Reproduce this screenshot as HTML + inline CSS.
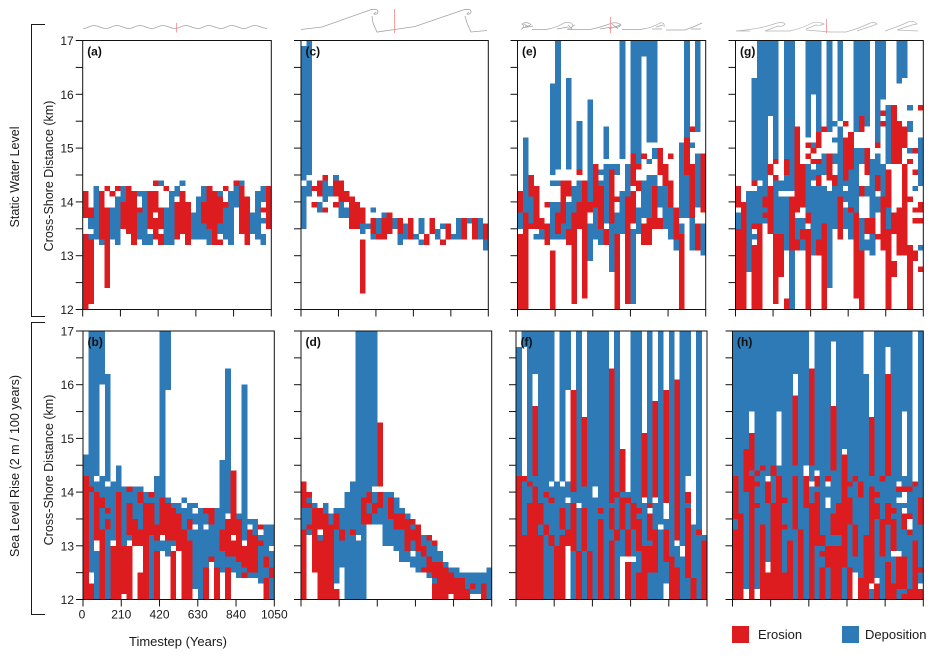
<!DOCTYPE html>
<html lang="en">
<head>
<meta charset="utf-8">
<title>Erosion and deposition by timestep</title>
<style>
html,body{margin:0;padding:0;background:#fff;}
body{width:935px;height:658px;overflow:hidden;}
svg{display:block;font-family:"Liberation Sans",sans-serif;fill:#1a1a1a;}
</style>
</head>
<body>
<svg id="figure" width="935" height="658" viewBox="0 0 935 658" xmlns="http://www.w3.org/2000/svg">
  <g fill="none" stroke="#a3a3a3" stroke-width="0.8">
    <path d="M83 28.500c5 0 7-3.500 11.500-3s7 3 11.500 3 7-3.500 11.500-3 7 3 11.500 3 7-3.500 11.500-3 7 3 11.500 3 7-3.500 11.500-3 7 3 11.500 3 7-3.500 11.500-3 7 3 11.500 3 7-3.500 11.500-3 7 3 11.500 3 7-3.500 11.500-3 7 3 11.500 3 7-3.500 11.500-3 7 3 11.500 3"/>
    <path d="M301 29.500L322 27L370 10Q378 8 378 12Q377 15 374 14L376 12M372 16L373 23L377 32L395 29.500L415 26.500L463 10Q471 8 471 12Q470 15 467 14L469 12M465 16L467 23L471 32L487 30.500"/>
    <path stroke-width="0.7" d="M521 29.500Q526 26 522 24Q526 21 531 24.500Q528 27 525 26M522 28L533 26M524 24L529 27M532 29.500H546Q556 28 564 23Q570 21 573 25Q572 29 568 28M557 29L568 27M570 28L575 25M568 25L572 29M567 29.500H590Q602 27 612 23Q618 22 621 25Q619 28 614 27M600 29L612 27M609 29L620 25M612 24L618 29M622 29.500H640Q652 28 660 23Q665 22 664 27M652 29H662M656 27L663 25M666 30H685Q694 27 702 23M691 29H701"/>
    <path stroke="#b5b5b5" stroke-width="0.7" d="M736 31Q760 29 774 24Q782 21 785 24Q783 27 778 26L765 31M750 31H738M765 31H790Q803 28 812 23Q818 21 824 24Q820 26 816 25L806 29M806 30L830 32H846Q860 28 868 24Q874 21 877 24L872 26L857 31M885 31Q900 26 908 22Q914 20 917 24L912 25L897 30M897 30L918 31"/>
  </g>
  <g stroke="#f4898b" stroke-width="0.8">
    <line x1="176.500" x2="176.500" y1="23" y2="32.500"/>
    <line x1="394.500" x2="394.500" y1="9" y2="33"/>
    <line x1="610.500" x2="610.500" y1="17" y2="33"/>
    <line x1="826.500" x2="826.500" y1="19" y2="33"/>
  </g>
  <path d="M45 24.500H31.500V316.500H45" fill="none" stroke="#1a1a1a" stroke-width="1"/>
  <path d="M45 322.500H31.500V614.500H45" fill="none" stroke="#1a1a1a" stroke-width="1"/>
  <text transform="translate(19,177) rotate(-90)" font-size="12.500" text-anchor="middle">Static Water Level</text>
  <text transform="translate(19,466) rotate(-90)" font-size="12.500" text-anchor="middle">Sea Level Rise (2 m / 100 years)</text>
  <text transform="translate(53,176) rotate(-90)" font-size="12.500" text-anchor="middle">Cross-Shore Distance (km)</text>
  <text transform="translate(53,470) rotate(-90)" font-size="12.500" text-anchor="middle">Cross-Shore Distance (km)</text>
  <text x="178" y="646" font-size="13" text-anchor="middle">Timestep (Years)</text>
  <g id="panels"></g>
  <g>
    <rect x="732" y="626" width="17" height="17" fill="#dc1c1e"/>
    <text x="758" y="639" font-size="13">Erosion</text>
    <rect x="842" y="626" width="17" height="17" fill="#2e7ab7"/>
    <text x="865" y="639" font-size="13">Deposition</text>
  </g>
</svg>
<script>
// Each column lists [from km, to km] pairs, flattened. Erosion draws over deposition.
const xTickValues = [0, 210, 420, 630, 840, 1050];
const xTickLabels = ["0", "210", "420", "630", "840", "1050"];
const yTickValues = [12, 12.5, 13, 13.5, 14, 14.5, 15, 15.5, 16, 16.5, 17];
const yTickLabels = ["12", "", "13", "", "14", "", "15", "", "16", "", "17"];
const yearsPerColumn = 30;

const depositionA = [[],[13.3,13.4,13.5,13.7],[13.3,14.3],[13.2,13.3],[],[13.3,13.9],[13.2,14.1],[14,14.3],[],[],[13.3,13.8,14.1,14.2],[13.2,14.2],[13.2,13.4],[],[14.3,14.4],[13.2,13.9],[13.2,14.2],[14.1,14.3],[14.3,14.4],[],[13.3,13.8],[13.3,14.1],[13.3,14.3],[13.2,13.5],[],[13.4,13.6,14.1,14.2],[13.3,13.9],[13.2,14.2],[13.9,14.3],[14.3,14.4],[],[13.4,13.8],[13.3,14.2],[13.2,13.4,13.6,13.7,14,14.3],[]];
const erosionA = [[12,13.4,13.7,14.2],[12.1,13.3,13.7,13.9],[],[13.3,14.2],[12.4,13.9,14.2,14.3],[14.1,14.2],[14.2,14.3],[13.5,14],[13.4,14.3],[13.2,14.2],[13.8,13.9],[],[13.5,14.2],[13.3,13.7,13.8,14.2,14.3,14.4],[13.2,13.4,13.5,13.9],[14.2,14.3],[],[13.3,14],[13.4,14.2],[13.2,14],[],[],[13.6,14],[13.5,14.3],[13.2,14.2],[13.2,13.3,13.6,14.1],[13.9,14,14.2,14.3],[],[14.3,14.4],[13.4,14.3],[13.2,14.1],[],[],[13.8,13.9],[13.5,14.3]];

const depositionB = [[14.3,14.7],[12.5,14,14.1,17],[12,12.9,14,14.2,14.3,17],[13.3,13.7,13.9,14.3,16,17],[12,14.1,14.2,16.2],[13.1,14.2],[14,14.5],[13,14.1],[13.1,13.2,13.8,14],[13.5,14.1],[13.3,13.8,14,14.1],[13.8,14],[12,13.2,13.8,13.9],[12.9,13.1,13.4,14.3],[12.9,13.1,13.9,17],[12.8,13.1,13.8,13.9,15.9,17],[13,13.1,13.7,13.8],[13.6,13.8],[13.3,13.7,13.8,13.9],[13.1,13.3,13.5,13.8],[12.2,13.3,13.4,13.6,13.7,13.8],[12,13.7],[12.6,13.3,13.4,13.6],[12.8,13.4],[12.6,13.7],[12.5,12.9,13.3,14.6],[12.6,12.8,13.6,16.3],[12.5,12.8],[12.4,12.7,13.5,13.6],[12.5,12.6,13.1,16],[12.4,12.5,13.4,13.5],[12.4,12.5,13.2,13.5],[12.3,13,13.1,13.2],[12.4,12.6,12.8,13.4],[12,12.4,12.6,12.9,13,13.4]];
const erosionB = [[12,14.3],[12,12.3,14,14.1],[13.1,14],[12,13.3,13.7,13.9],[13.3,13.5,13.6,13.7],[12,13],[12,14],[12.1,13],[12,13,13.2,13.8,14,14.1],[13,13.5],[12,12.5,13,13.3,13.8,14],[12,13.8],[13.2,13.8,13.9,14],[12,12.9,13.1,13.4],[13.2,13.9],[13.1,13.8],[12,12.9,13.1,13.7],[12.9,13.6],[12,13.3],[12,13.1,13.3,13.5],[],[],[12,12.6,13.6,13.7],[12.7,12.8,13.4,13.7],[12,12.6],[12.9,13.3],[12,12.6,12.8,13.5],[12.8,13.1,13.2,14.4],[12.7,13.5],[12.4,12.5,12.6,13],[12.5,13.3],[12.5,13.2],[13,13.1,13.3,13.4],[12,12.4,12.6,12.8],[12.4,12.6]];

const depositionC = [[13.5,14.3,14.4,16.9],[14.1,14.4,14.5,17],[],[13.8,14],[14,14.4],[14.1,14.3],[14.4,14.5],[13.7,14],[13.7,13.9],[],[],[13.4,13.6],[13.5,13.6],[13.3,13.4,13.8,13.9],[13.4,13.7],[13.7,13.8],[],[13.5,13.7],[13.2,13.4],[13.3,13.6],[],[13.3,13.4],[13.2,13.3,13.4,13.7],[],[],[13.3,13.5],[13.5,13.6],[],[13.3,13.4],[13.3,13.7],[],[13.6,13.7],[],[13.3,13.7],[13.1,13.3]];
const erosionC = [[],[],[13.9,14,14.2,14.3],[14.1,14.4],[13.8,13.9,14.4,14.5],[],[13.9,14,14.1,14.4],[14,14.4],[14,14.2],[13.5,14.1],[13.5,14],[12.3,13.3,13.6,13.9],[],[13.4,13.7],[13.3,13.4],[13.3,13.7],[13.4,13.8],[],[13.4,13.7],[],[13.3,13.7],[],[],[13.2,13.4],[13.4,13.7],[],[13.2,13.3],[13.3,13.6],[],[],[13.3,13.7],[],[13.3,13.7],[],[13.3,13.6]];

const depositionD = [[13.3,13.7],[13.2,13.3,13.4,13.7,13.8,13.9],[13.7,13.8],[13.1,13.2],[13.6,13.8],[13.4,13.6],[12.3,13.3,13.6,13.7],[12.6,13.1,13.3,13.7],[12,14],[12,13.3,13.2,14.2],[12,13.1,13.2,17],[12,13.4,13.9,17],[13.6,13.8,14,17],[13.4,13.6,13.8,14,14.1,17],[13.4,13.7],[13,14],[13,13.5,13.9,14],[12.9,13.3,13.6,13.9],[12.7,13.3,13.6,13.7],[12.7,12.9,13.5,13.6],[12.6,12.8,12.9,13.1,13.3,13.4],[12.5,12.9],[12.6,12.8,13,13.2],[12.4,12.5,12.8,13.1],[12.3,12.4,12.7,13],[12.7,12.9],[12.6,12.7],[12.5,12.6],[12.4,12.6],[12.4,12.5],[12.2,12.5],[12.1,12.2,12.3,12.5],[12.1,12.5],[12.3,12.5],[12,12.6]];
const erosionD = [[12,13.3,13.7,14.2],[13.3,13.4,13.7,13.8,13.9,14],[12.5,13.7],[12,13.1,13.3,13.7],[12,13.6],[12,13.4],[12,12.2,13.3,13.6],[13.1,13.3],[],[13.2,13.3],[],[13.4,13.9],[13.4,13.6,13.8,14],[13.6,13.8],[13.7,14,14.1,15.3],[],[13.5,13.9],[13.3,13.6],[13.3,13.6],[12.9,13.5],[13.1,13.3,13.4,13.5],[12.9,13.4],[12.5,12.6,12.8,13],[12.5,12.8,13.1,13.2],[12,12.3,12.4,12.7,13,13.1],[12,12.7],[12,12.6],[12.1,12.5],[12,12.4],[12,12.4],[12,12.2],[12.2,12.3],[],[12,12.3],[]];

const depositionE = [[13.5,13.8],[13.8,15.2],[13.6,14.1],[13.3,13.4],[13.3,13.5],[],[13.3,14,14.3,14.4,14.5,16.2],[13.3,14,14.3,14.4,14.6,17],[13.3,13.6],[13.5,14,14.6,16.3],[13.8,14.3],[14,14.4,14.6,15.5],[],[12.9,13.6,14,15.9],[13.3,13.9],[13.2,13.5,14.3,14.4,14.5,14.6],[13.6,14.7,14.8,15.4],[12.7,13.6,14.6,14.7],[13.4,13.8,14.5,14.7],[13.4,14.2,14.8,17],[14.1,14.7],[12.1,13.5,14.9,17],[13.4,13.9,14.7,17],[13.7,14.4,16.7,17],[13.7,14.5,14.7,14.8,15.1,17],[14.3,14.5,14.8,15,15.1,17],[13.9,14.3],[13.5,14.3],[13.3,13.9],[13.1,13.3],[13.4,13.6,13.7,15.1],[13.7,14.5,15.2,17],[13.1,13.7,15,15.1],[13.9,14.9,15.3,17],[13,13.6]];
const erosionE = [[12,13.4,13.8,14.2],[12,13.8],[13.5,13.6,14.1,14.5],[13.5,14.3],[13.5,13.7],[13.2,13.6,13.9,14],[12,13.1],[13.4,13.8],[13.6,14.4],[13.2,13.5,14.1,14.4],[12.1,13.8],[13.5,14,14.5,14.6],[12.2,14.4],[13.8,14],[13.9,14.7],[13.5,14.3],[13.2,13.5],[13.6,14.6],[12,13.4,14,14.1],[],[12.1,14.1],[13.6,14.2,14.3,14.9],[14.2,14.4,14.6,14.7],[13.2,13.6,14.8,14.9],[13.2,13.7],[13.5,14.3],[13.5,13.7,14.5,15],[14.3,14.7],[13.9,14.4,14.8,14.9],[13.3,13.9],[12,13.4],[14.5,15.2],[13.7,14.7,15.3,15.4],[13.1,13.6],[13.8,14.9]];

const depositionF = [[14.3,16.7],[13.2,14.2,16.7,17],[13.8,14.1,14.2,17],[14.1,14.3,16.2,17],[13.2,13.4,13.8,17],[12,13.2,13.4,13.9,14,17],[12,14.1,14.2,17],[13,14.2],[13.2,13.3,13.7,14.1,14.2,17],[13.3,13.8,13.9,14.2,15.9,17],[12,12.9,13.8,14],[12.9,13.7,13.8,17],[12,12.9,13.7,14.1],[12.9,17],[12,13.9,14.1,17],[13.5,13.6,13.7,17],[12,17],[13.1,13.3,13.7,13.8],[12,13.1,13.3,13.9,14,17],[12.8,13.3,13.9,14],[13.3,13.8,13.9,14],[12,12.7,12.8,13.3,13.8,17],[12.5,12.9,13.5,13.6,13.7,17],[13,13.8],[12,12.5,13,13.1,13.8,17],[12,12.5,13.3,13.8],[12,13.3,13.4,17],[12.3,12.7,13.3,13.5],[12.8,17],[12.6,13],[12,12.8,13,17],[12,12.4,13.7,13.8,14.3,17],[12,13.4],[12,13.2,13.3,17],[13.1,13.2]];
const erosionF = [[12,14.3],[12,13.2,14.2,14.3],[12,13.8,14.1,14.2],[12,14.1,14.3,15.6],[12,13.2,13.4,13.8],[13.2,13.4,13.9,14],[13,13.2,13.8,13.9],[12,13],[12,13.2,13.3,13.7],[13,13.3],[12.9,13.8,14,15.9],[12,12.9],[12.9,13.7,14.1,15.4],[12,12.9],[],[12,13.5,13.6,13.7],[],[12,13.1,13.3,13.7,13.8,16.3],[13.1,13.3,13.9,14],[13.3,13.9,14,14.8],[12,12.7,12.8,13.3,13.8,13.9],[13.3,13.8],[12,12.5,12.9,13.5,13.6,13.7],[12,13,13.9,15.1],[12.5,13,13.1,13.6,13.7,13.8],[12.5,13.3,13.9,15.7],[],[12.7,13.3,13.8,15.9],[12,12.8],[12,12.6,13.1,16.1],[],[12.4,13.7,13.8,14],[12,12.4],[13.2,13.3],[12,13.1]];

const depositionG = [[13.5,13.8],[],[12.7,14.2],[13.3,13.4,13.6,14.2,14.4,16.3],[13.6,14.3,14.4,17],[13.6,17],[15.6,17],[13.4,14.4,14.8,17],[13.4,14.1,14.2,14.4],[13.1,14.1,14.2,14.5,14.8,17],[12,13.1,14.2,17],[13.3,13.7],[13.1,13.3,13.5,13.7],[13.8,14.7,15.2,17],[13,14.3,14.4,14.6,15,15.1,16,17],[13.3,14.3,14.5,14.7,15.3,17],[13.6,14.3,14.5,14.9],[12.4,14.2,15.3,17],[13.5,14.3,14.7,14.9,15.1,15.2,15.4,15.5],[14.1,15.4,15.5,17],[13.5,13.9,14,14.2,14.3,14.4],[13.3,14.7],[13.8,15,15.3,17],[13.1,13.7,14.7,15,15.6,17],[13.1,13.3,14.1,14.3,15.4,17],[13,13.4,13.7,14.8],[13.8,14.1,14.5,14.9,15.1,16,16,17],[14.1,14.7,15.9,17],[13.5,13.9,14.7,15.8],[13.5,13.7],[16.2,17],[16.3,17],[14.9,15,15.3,15.5,15.7,15.8],[13,13.1,14.2,14.3],[13.1,13.2,14.3,15.2]];
const erosionG = [[12,13.5,13.9,14.3],[12,14],[],[12,13.2,13.5,13.6,14.3,14.4],[12,13.6],[13.7,13.8,13.9,14.1],[13.4,14.3,14.5,14.7],[12.1,13.4,14.4,14.5,14.7,14.8],[12.6,13.4],[12,12.2,14.5,14.8],[13.1,14.1],[13.1,13.3,13.8,15.4],[13.3,13.5,13.9,14.7],[12,13.5,13.6,13.8,14.8,14.9,15,15.1],[14.7,14.8,14.9,15],[13,13.3,14.3,14.5,14.7,14.8,15,15.3],[12,13.6,15.3,15.4],[14.4,14.9],[14.3,14.5],[13.3,14.1],[14.4,15.2,15.4,15.5],[13.8,13.9,14.6,15.3],[12.2,13.8],[12,13.1,14.1,14.3,15.3,15.6],[13.4,13.7,14.5,15],[13.4,13.7],[13.3,13.4,14.2,14.5,15,15.1],[13.1,14.1,15.4,15.5,15.6,15.7],[12,13.5,13.9,14.6],[12.6,12.9,13.4,13.8,14.7,15.8],[13,13.9,14.7,15.5],[13,14.7,15,15.4],[12,13.2,14,14.1,14.7,14.8],[12.9,13.1,13.6,13.7,13.8,13.9,14.5,14.6,14.9,15],[12.7,12.8,13.6,13.7,13.8,14,15.7,15.8]];

const depositionH = [[13.3,13.5,14.3,17],[13.6,17],[12.2,17],[14.3,14.4,15.5,17],[12.2,17],[13.4,14.4,14.5,17],[12.7,14.2,14.3,17],[13.8,14.3,14.5,17],[14.3,14.5,15.5,17],[12.5,17],[13.1,17],[12,13.3,14.3,14.5,16.2,17],[13.3,17],[12,14.3,14.5,17],[13.8,14.1,14.2,14.5],[12,13,14,14.1,14.4,17],[12.6,17],[12,13.7,13.9,14.1,14.3,17],[13,13.2,13.6,14.4,16.8,17],[13,13.2,13.8,17],[12,12.6,14.8,17],[12.6,13.4,13.9,14.1,14.2,17],[12.5,17],[12.4,17],[13.2,16.2],[12,12.2,14.1,14.3],[12.4,17],[12,12.8,13.5,14.2,14.3,17],[12.7,13.4,13.8,14.3,16.7,17],[12.3,12.8,13.5,13.6,13.7,17],[12,12.2,12.9,13.8,13.9,14.1,14.2,17],[12.1,12.2,12.8,13.3,13.7,13.8,14.1,14.3,15.5,17],[12.2,13.2,13.6,14,14.1,17],[13.1,14.1],[12.3,12.5,12.6,13.4,13.9,17]];
const erosionH = [[12,13.3,13.5,14.3],[12,13.6],[14,14.8],[12,14.3,14.4,15.1],[13.7,13.8,14.1,14.2,14.3,14.4],[12,13.4,14.4,14.5],[12,12.5,13.8,14.2],[12,13.8,14.3,14.5],[12,14.3],[12,12.5,13.3,13.4,13.8,13.9],[12,13.1],[13.3,14.3,14.5,15.8],[12,13.3],[13.7,14.3],[12,13.8,14.5,16.3],[13,14,14.1,14.3],[12,12.6,12.8,12.9,13,13.2],[12.6,13,14.2,14.3],[12,13,13.2,13.6,14.4,15.6],[12,13,13.2,13.8],[12.6,14.7],[12,12.6,13.4,13.9,14.1,14.2],[12.8,13.4,14.2,14.3],[12,12.4,13.9,14.2],[12,13.2],[12.3,14.1,14.3,15.4],[12,12.3,13.5,13.8,13.9,14],[12.8,13.5,14.2,14.3],[12,12.7,13.4,13.8,14.3,16.2],[12,12.3,12.9,13.5,13.6,13.7],[12.2,12.8,14,14.1],[12,12.1,12.2,12.8,13.3,13.6,14,14.1],[12,12.2,13.2,13.3,13.5,13.6,14,14.1],[12,13.1,14.1,14.2],[12,12.2,12.5,12.6,13.4,13.9]];

const panelFrames = [
  {key:"a", left:82.7, right:271.3, top:40.5, bottom:309.5, deposition:depositionA, erosion:erosionA, tickLabels:false},
  {key:"c", left:301, right:488.3, top:40.5, bottom:309.5, deposition:depositionC, erosion:erosionC, tickLabels:false},
  {key:"e", left:517.5, right:705.7, top:40.5, bottom:309.5, deposition:depositionE, erosion:erosionE, tickLabels:false},
  {key:"g", left:735.5, right:923.3, top:40.5, bottom:309.5, deposition:depositionG, erosion:erosionG, tickLabels:false},
  {key:"b", left:83, right:274.3, top:331, bottom:599.5, deposition:depositionB, erosion:erosionB, tickLabels:true},
  {key:"d", left:301, right:491.7, top:331, bottom:599.5, deposition:depositionD, erosion:erosionD, tickLabels:false},
  {key:"f", left:516, right:707, top:331, bottom:599.5, deposition:depositionF, erosion:erosionF, tickLabels:false},
  {key:"h", left:732.5, right:923.3, top:331, bottom:599.5, deposition:depositionH, erosion:erosionH, tickLabels:false}
];

const SVG_NS = "http://www.w3.org/2000/svg";
const root = document.getElementById("panels");
const EROSION = "#dc1c1e";
const DEPOSITION = "#2e7ab7";
const INK = "#111";

function create(parent, tag, props) {
  const el = document.createElementNS(SVG_NS, tag);
  for (const k in props) el.setAttribute(k, props[k]);
  parent.appendChild(el);
  return el;
}

function drawMarks(group, columns, color, kind, x, y, colWidth) {
  columns.forEach(function (col, i) {
    for (let j = 0; j + 1 < col.length; j += 2) {
      const rect = create(group, "rect", {
        x: x(i * yearsPerColumn),
        y: y(col[j + 1]),
        width: colWidth + 0.3,
        height: y(col[j]) - y(col[j + 1]),
        fill: color,
        "shape-rendering": "crispEdges"
      });
      
      
    }
  });
}

panelFrames.forEach(function (p) {
  const x = function (years) { return p.left + (years / 1050) * (p.right - p.left); };
  const y = function (km) { return p.bottom - ((km - 12) / 5) * (p.bottom - p.top); };
  const colWidth = x(yearsPerColumn) - x(0);

  const g = create(root, "g", {});
  
  

  drawMarks(g, p.deposition, DEPOSITION, 'deposition', x, y, colWidth);
  drawMarks(g, p.erosion, EROSION, 'erosion', x, y, colWidth);

  const frame = create(g, "rect", {
    x: p.left, y: p.top, width: p.right - p.left, height: p.bottom - p.top,
    fill: "none", stroke: INK, "stroke-width": 1
  });
  
  

  yTickValues.forEach(function (v, i) {
    const tick = create(g, "line", {
      x1: p.left - 7, x2: p.left, y1: y(v), y2: y(v), stroke: INK, "stroke-width": 1
    });
    
    
    if ((p.key === "a" || p.key === "b") && yTickLabels[i]) {
      const label = create(g, "text", {
        x: p.left - 9, y: y(v) + 4.5, "font-size": 12, "text-anchor": "end"
      });
      label.textContent = yTickLabels[i];
      
      
    }
  });

  xTickValues.forEach(function (v, i) {
    const tick = create(g, "line", {
      x1: x(v), x2: x(v), y1: p.bottom, y2: p.bottom + 7, stroke: INK, "stroke-width": 1
    });
    
    
    if (p.tickLabels) {
      const label = create(g, "text", {
        x: x(v) - (i === 0 ? 1 : 0), y: p.bottom + 19, "font-size": 12, "text-anchor": "middle"
      });
      label.textContent = xTickLabels[i];
      
      
    }
  });

  const tag = create(g, "text", {
    x: p.left + 4.5, y: p.top + 15, "font-size": 12, "font-weight": "bold", fill: "#111"
  });
  tag.textContent = "(" + p.key + ")";
  
  
});
</script>
</body>
</html>
